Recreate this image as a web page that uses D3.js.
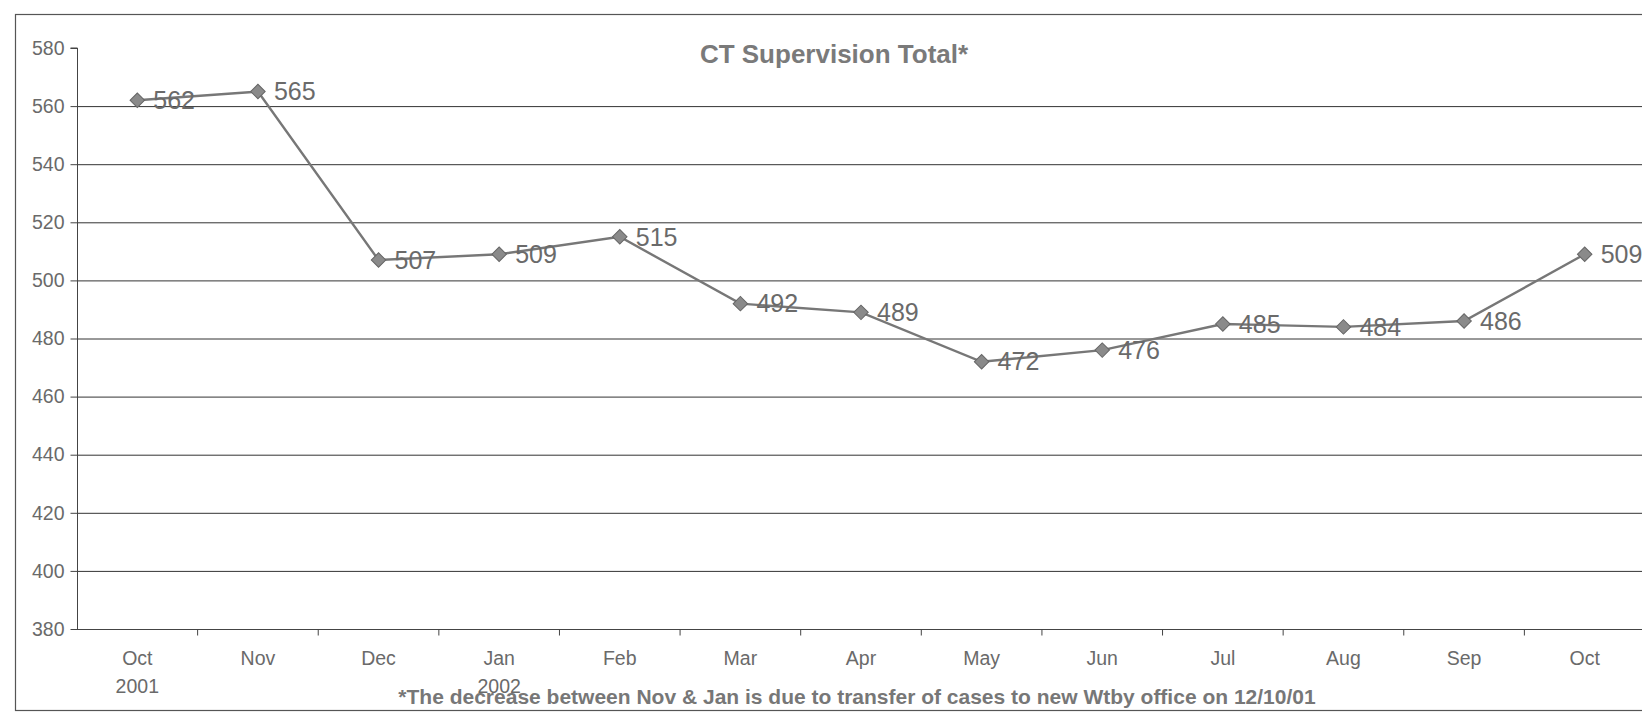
<!DOCTYPE html>
<meta charset="utf-8">
<head>
  <title>CT Supervision Total</title>
</head>

<style>
body {
  margin: 0;
  background: #fff;
}
text {
  font-family: "Liberation Sans", Arial, sans-serif;
  fill: #666;
}
.grid line {
  stroke: #333;
  stroke-width: 1;
}
.axis path, .axis line {
  stroke: #444;
}
.axis text {
  font-size: 19.5px;
  fill: #6a6a6a;
}
.title {
  font-size: 26px;
  font-weight: bold;
  fill: #7a7a7a;
  text-anchor: middle;
}
.note {
  font-size: 21px;
  font-weight: bold;
  fill: #777;
  text-anchor: middle;
}
.label {
  font-size: 25px;
  fill: #6a6a6a;
}
</style>

<body>
  <svg width="1642" height="727"></svg>

  <script src="https://cdnjs.cloudflare.com/ajax/libs/d3/7.8.5/d3.min.js"></script>
  <script>
var width = 1642, height = 727

var months = ['Oct', 'Nov', 'Dec', 'Jan', 'Feb', 'Mar', 'Apr', 'May', 'Jun', 'Jul', 'Aug', 'Sep', 'Oct']
var years = ['2001', '', '', '2002', '', '', '', '', '', '', '', '', '']
var totals = [562, 565, 507, 509, 515, 492, 489, 472, 476, 485, 484, 486, 509]
var yTicks = [380, 400, 420, 440, 460, 480, 500, 520, 540, 560, 580]

var svg = d3.select('svg')

// outer frame (runs off the right edge like the scan)
svg.append('rect')
  .attr('x', 15.5).attr('y', 14.5)
  .attr('width', 1700).attr('height', 696)
  .attr('fill', 'none')
  .attr('stroke', '#555')
  .attr('stroke-width', 1.2)

var keys = months.map(function(m, i) { return i })

var x = d3.scaleBand()
  .domain(keys)
  .range([77, 1645])

var y = d3.scaleLinear()
  .domain([380, 580])
  .range([629, 48])

// gridlines (none at the top value)
svg.append('g')
  .attr('class', 'grid')
  .selectAll('line')
  .data(yTicks.slice(1, -1))
  .enter()
  .append('line')
  .attr('x1', 77)
  .attr('x2', width)
  .attr('y1', function(d) { return y(d) + 0.5 })
  .attr('y2', function(d) { return y(d) + 0.5 })

// y axis
var yAxis = svg.append('g')
  .attr('class', 'axis')
  .attr('transform', 'translate(77.5,0)')
  .call(d3.axisLeft(y).tickValues(yTicks).tickSize(7).tickPadding(6))
yAxis.select('.domain')
  .attr('d', 'M-7,' + y(580) + 'H0V' + y(380))

// x axis with ticks at band edges
var xAxis = svg.append('g')
  .attr('class', 'axis')
  .attr('transform', 'translate(0,' + (y(380) + 0.5) + ')')
xAxis.append('line')
  .attr('x1', 77).attr('x2', width)
xAxis.selectAll('.tk')
  .data(keys.slice(1))
  .enter()
  .append('line')
  .attr('class', 'tk')
  .attr('x1', function(d) { return x(d) })
  .attr('x2', function(d) { return x(d) })
  .attr('y1', 0).attr('y2', 6)
xAxis.selectAll('.m')
  .data(keys)
  .enter()
  .append('text')
  .attr('class', 'm')
  .attr('x', function(d) { return x(d) + x.bandwidth() / 2 })
  .attr('y', 35)
  .attr('text-anchor', 'middle')
  .text(function(d) { return months[d] })
xAxis.selectAll('.yr')
  .data(keys.filter(function(d) { return years[d] }))
  .enter()
  .append('text')
  .attr('class', 'yr')
  .attr('x', function(d) { return x(d) + x.bandwidth() / 2 })
  .attr('y', 63)
  .attr('text-anchor', 'middle')
  .text(function(d) { return years[d] })

// title
svg.append('text')
  .attr('class', 'title')
  .attr('x', 834)
  .attr('y', 63)
  .text('CT Supervision Total*')

var cx = function(i) { return x(i) + x.bandwidth() / 2 }

// line
svg.append('path')
  .datum(totals)
  .attr('fill', 'none')
  .attr('stroke', '#777')
  .attr('stroke-width', 2.4)
  .attr('d', d3.line()
    .x(function(d, i) { return cx(i) })
    .y(function(d) { return y(d) }))

// markers
svg.append('g')
  .selectAll('path')
  .data(totals)
  .enter()
  .append('path')
  .attr('d', d3.symbol().type(d3.symbolSquare).size(105))
  .attr('transform', function(d, i) {
    return 'translate(' + cx(i) + ',' + y(d) + ') rotate(45)'
  })
  .attr('fill', '#8a8a8a')
  .attr('stroke', '#666')
  .attr('stroke-width', 1)

// value labels
svg.append('g')
  .selectAll('text')
  .data(totals)
  .enter()
  .append('text')
  .attr('class', 'label')
  .attr('x', function(d, i) { return cx(i) + 16 })
  .attr('y', function(d) { return y(d) })
  .attr('dy', '0.35em')
  .text(function(d) { return d })

// footnote
svg.append('text')
  .attr('class', 'note')
  .attr('x', 857)
  .attr('y', 704)
  .text('*The decrease between Nov & Jan is due to transfer of cases to new Wtby office on 12/10/01')
  </script>
</body>
</html>
